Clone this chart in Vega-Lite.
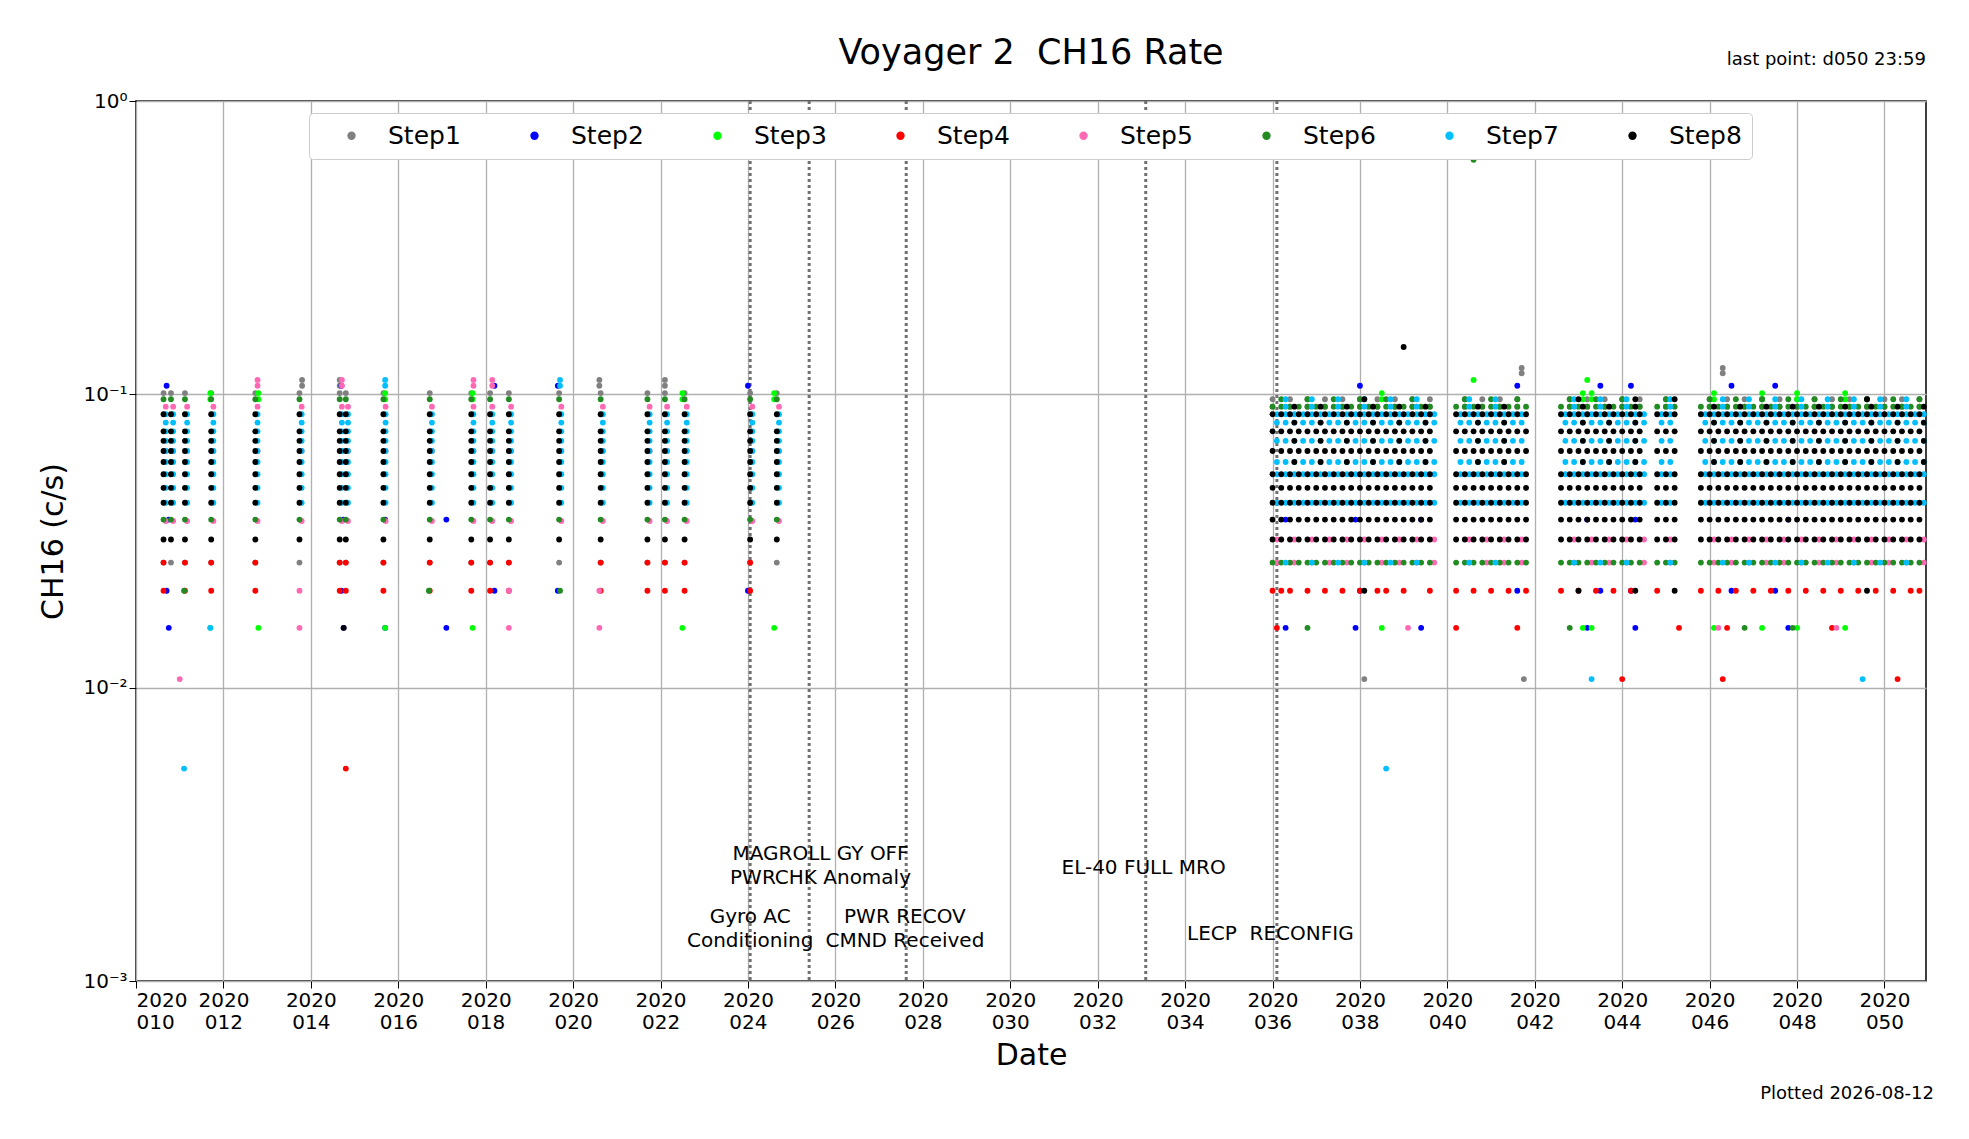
{
  "$schema": "https://vega.github.io/schema/vega-lite/v6.json",
  "autosize": "none",
  "width": 1790,
  "height": 880,
  "padding": {"left": 136, "top": 101, "right": 43, "bottom": 158},
  "title": {"text": "Voyager 2\u00a0\u00a0CH16 Rate", "fontSize": 35, "fontWeight": "normal", "font": "DejaVu Sans", "color": "black", "offset": -20},
  "config": {
    "font": "DejaVu Sans",
    "view": {"stroke": "black", "strokeWidth": 1.5},
    "axis": {"labelFontSize": 20, "titleFontSize": 30, "titleFontWeight": "normal", "labelColor": "black", "titleColor": "black", "domain": false, "tickColor": "black", "tickSize": 7, "gridColor": "#b0b0b0", "gridWidth": 1.3}
  },
  "datasets": {
    "pts": [
      {"s": "Step1", "d": [10.63,10.8,11.12,11.72,12.73,13.74,14.66,14.8,15.66,16.72,17.67,18.1,18.53,19.68,20.63,21.7,22.1,22.55,24.05,24.66], "v": [0.0267,0.101]},
      {"s": "Step1", "d": [36.0,36.4,36.8,37.2,37.6,38.0,38.4,38.8,39.2,39.6,40.4,40.8,41.2,41.6,42.8,43.2,43.6,44.0,44.4,45.0,46.0,46.4,46.8,47.2,47.6,48.0,48.4,48.8,49.2,49.6,50.0,50.4,50.8], "v": [0.0962,0.0908]},
      {"s": "Step1", "d": [38.1,41.75], "v": [0.0107]},
      {"s": "Step1", "d": [41.7,46.3], "v": [0.118,0.123]},
      {"s": "Step1", "d": [13.8,14.66,20.6,22.1], "v": [0.107,0.112]},
      {"s": "Step2", "d": [10.7,14.7,18.2,19.65,24.0,38.0,41.6,43.5,44.2,46.5,47.5], "v": [0.0214,0.107]},
      {"s": "Step2", "d": [10.75,14.75,15.7,17.1,36.3,37.9,39.4,43.2,44.3,47.8], "v": [0.016,0.0374]},
      {"s": "Step3", "d": [11.7,12.8,15.7,17.7,22.5,24.6,38.5,43.1,43.3,46.1,47.2,48.0,49.1], "v": [0.016,0.0962,0.101]},
      {"s": "Step3", "d": [40.6,43.2], "v": [0.112]},
      {"s": "Step4", "d": [10.63,11.12,11.72,12.73,14.66,14.8,15.66,16.72,17.67,18.1,18.53,20.63,21.7,22.1,22.55,24.05], "v": [0.0214,0.0267]},
      {"s": "Step4", "d": [36.0,36.2,36.4,36.8,37.2,37.6,38.0,38.4,38.6,39.0,39.6,40.2,40.6,41.0,41.4,41.8,42.6,43.0,43.4,43.8,44.2,44.8,45.8,46.2,46.6,47.0,47.4,47.8,48.2,48.6,49.0,49.4,49.8,50.2,50.6,50.8], "v": [0.0214]},
      {"s": "Step4", "d": [14.8], "v": [0.0053]},
      {"s": "Step4", "d": [36.1,40.2,41.6,45.3,46.4,48.8], "v": [0.016]},
      {"s": "Step4", "d": [44.0,46.3,50.3], "v": [0.0107]},
      {"s": "Step5", "d": [10.68,10.85,11.17,11.77,12.78,13.79,14.71,14.85,15.71,16.77,17.72,18.15,18.58,19.73,20.68,21.75,22.15,22.6,24.1,24.71], "v": [0.037,0.0641,0.0908]},
      {"s": "Step5", "d": [12.78,14.71,17.72,18.15], "v": [0.107,0.112]},
      {"s": "Step5", "d": [11.0], "v": [0.0107]},
      {"s": "Step5", "d": [13.74,18.53,20.6], "v": [0.016,0.0214]},
      {"s": "Step5", "d": [36.1,36.5,36.9,37.3,37.7,38.1,38.5,38.9,39.3,39.7,40.5,40.9,41.3,41.7,42.9,43.3,43.7,44.1,44.5,45.1,46.1,46.5,46.9,47.3,47.7,48.1,48.5,48.9,49.3,49.7,50.1,50.5,50.9], "v": [0.0267,0.032]},
      {"s": "Step5", "d": [39.1,46.2,48.9], "v": [0.016]},
      {"s": "Step6", "d": [10.63,10.8,11.12,11.72,12.73,13.74,14.66,14.8,15.66,16.72,17.67,18.1,18.53,19.68,20.63,21.7,22.1,22.55,24.05,24.66], "v": [0.0374,0.0962]},
      {"s": "Step6", "d": [11.1,16.7,19.7], "v": [0.0214]},
      {"s": "Step6", "d": [36.0,36.2,36.4,36.6,36.8,37.0,37.2,37.4,37.6,37.8,38.0,38.2,38.4,38.6,38.8,39.0,39.2,39.4,39.6,40.2,40.4,40.6,40.8,41.0,41.2,41.4,41.6,41.8,42.6,42.8,43.0,43.2,43.4,43.6,43.8,44.0,44.2,44.4,44.8,45.0,45.2,45.8,46.0,46.2,46.4,46.6,46.8,47.0,47.2,47.4,47.6,47.8,48.0,48.2,48.4,48.6,48.8,49.0,49.2,49.4,49.6,49.8,50.0,50.2,50.4,50.6,50.8], "v": [0.0267,0.0908]},
      {"s": "Step6", "d": [36.2,36.8,37.4,38.0,38.6,39.2,40.4,41.0,41.6,42.8,43.4,44.0,45.0,46.0,46.6,47.2,47.8,48.4,49.0,49.6,50.2,50.8], "v": [0.0962]},
      {"s": "Step6", "d": [36.8,42.8,46.8,47.9], "v": [0.016]},
      {"s": "Step6", "d": [40.6], "v": [0.63]},
      {"s": "Step7", "d": [10.68,10.85,11.17,11.77,12.78,13.79,14.71,14.85,15.71,16.77,17.72,18.15,18.58,19.73,20.68,21.75,22.15,22.6,24.1,24.71], "v": [0.0427,0.048,0.0534,0.0588,0.0641,0.0694,0.0748,0.0801,0.0855]},
      {"s": "Step7", "d": [11.1,38.6], "v": [0.0053]},
      {"s": "Step7", "d": [11.7], "v": [0.016]},
      {"s": "Step7", "d": [15.7,19.7], "v": [0.112,0.107]},
      {"s": "Step7", "d": [36.1,36.3,36.5,36.7,36.9,37.1,37.3,37.5,37.7,37.9,38.1,38.3,38.5,38.7,38.9,39.1,39.3,39.5,39.7,40.3,40.5,40.7,40.9,41.1,41.3,41.5,41.7,42.7,42.9,43.1,43.3,43.5,43.7,43.9,44.1,44.3,44.5,44.9,45.1,45.9,46.1,46.3,46.5,46.7,46.9,47.1,47.3,47.5,47.7,47.9,48.1,48.3,48.5,48.7,48.9,49.1,49.3,49.5,49.7,49.9,50.1,50.3,50.5,50.7,50.9], "v": [0.0427,0.0534,0.0588,0.0694,0.0801,0.0855]},
      {"s": "Step7", "d": [36.3,36.9,37.5,38.1,38.7,39.3,40.5,41.1,42.9,43.5,44.1,45.1,46.3,46.9,47.5,48.1,48.7,49.3,49.9,50.5], "v": [0.0908,0.0962,0.0267]},
      {"s": "Step7", "d": [43.3,49.5], "v": [0.0107]},
      {"s": "Step7", "d": [40.6], "v": [0.7]},
      {"s": "Step8", "d": [10.63,10.8,11.12,11.72,12.73,13.74,14.66,14.8,15.66,16.72,17.67,18.1,18.53,19.68,20.63,21.7,22.1,22.55,24.05,24.66], "v": [0.032,0.0427,0.048,0.0534,0.0588,0.0641,0.0694,0.0748,0.0855]},
      {"s": "Step8", "d": [14.75], "v": [0.016]},
      {"s": "Step8", "d": [36.0,36.2,36.4,36.6,36.8,37.0,37.2,37.4,37.6,37.8,38.0,38.2,38.4,38.6,38.8,39.0,39.2,39.4,39.6,40.2,40.4,40.6,40.8,41.0,41.2,41.4,41.6,41.8,42.6,42.8,43.0,43.2,43.4,43.6,43.8,44.0,44.2,44.4,44.8,45.0,45.2,45.8,46.0,46.2,46.4,46.6,46.8,47.0,47.2,47.4,47.6,47.8,48.0,48.2,48.4,48.6,48.8,49.0,49.2,49.4,49.6,49.8,50.0,50.2,50.4,50.6,50.8], "v": [0.032,0.0374,0.0427,0.048,0.0534,0.0641,0.0748,0.0855]},
      {"s": "Step8", "d": [36.5,37.1,37.7,38.3,38.9,39.5,40.7,41.3,43.1,43.7,44.3,46.1,46.7,47.3,47.9,48.5,49.1,49.7,50.3,50.9], "v": [0.0588,0.0694,0.0801,0.0908]},
      {"s": "Step8", "d": [39.0], "v": [0.145]},
      {"s": "Step8", "d": [38.1,43.0,44.3,45.2,49.6], "v": [0.0214,0.0962]}
    ],
    "events": [{"d": 24.05}, {"d": 25.4}, {"d": 27.62}, {"d": 33.1}, {"d": 36.1}],
    "notes": [
      {"d": 25.66, "y": 0.0027, "t": ["MAGROLL GY OFF", "PWRCHK Anomaly"]},
      {"d": 24.05, "y": 0.00165, "t": ["Gyro AC", "Conditioning"]},
      {"d": 27.59, "y": 0.00165, "t": ["PWR RECOV", "CMND Received"]},
      {"d": 33.05, "y": 0.00242, "t": ["EL-40 FULL MRO"]},
      {"d": 35.95, "y": 0.00145, "t": ["LECP\u00a0\u00a0RECONFIG"]}
    ]
  },
  "layer": [
    {
      "data": {"name": "events"},
      "mark": {"type": "rule", "color": "#707070", "strokeWidth": 3, "strokeDash": [3, 3]},
      "encoding": {"x": {"field": "d", "type": "quantitative"}}
    },
    {
      "data": {"name": "pts"},
      "transform": [{"flatten": ["d"]}, {"flatten": ["v"]}],
      "mark": {"type": "circle", "size": 34, "opacity": 1},
      "encoding": {
        "x": {"field": "d", "type": "quantitative", "title": "Date",
          "scale": {"domain": [10, 50.95], "nice": false, "zero": false},
          "axis": {"values": [10,12,14,16,18,20,22,24,26,28,30,32,34,36,38,40,42,44,46,48,50], "labelExpr": "['2020', format(datum.value, '03d')]", "titlePadding": 8}},
        "y": {"field": "v", "type": "quantitative", "title": "CH16 (c/s)",
          "scale": {"type": "log", "domain": [0.001, 1], "nice": false},
          "axis": {"values": [0.001, 0.01, 0.1, 1], "labelExpr": "datum.value == 1 ? '10⁰' : datum.value == 0.1 ? '10⁻¹' : datum.value == 0.01 ? '10⁻²' : '10⁻³'", "titlePadding": 14}},
        "color": {"field": "s", "type": "nominal", "title": null,
          "scale": {"domain": ["Step1","Step2","Step3","Step4","Step5","Step6","Step7","Step8"], "range": ["#808080","#0000ff","#00ff00","#ff0000","#ff69b4","#228b22","#00bfff","#000000"]},
          "legend": {"orient": "none", "legendX": 173, "legendY": 12, "direction": "horizontal", "columns": 8, "columnPadding": 41, "labelFontSize": 25, "labelOffset": 24, "symbolSize": 70, "symbolType": "circle", "labelColor": "black", "strokeColor": "#cccccc", "fillColor": "white", "padding": 10, "cornerRadius": 4, "symbolOffset": 20}}
      }
    },
    {
      "data": {"name": "notes"},
      "mark": {"type": "text", "fontSize": 20, "align": "center", "baseline": "middle", "lineHeight": 24, "color": "black"},
      "encoding": {
        "x": {"field": "d", "type": "quantitative"},
        "y": {"field": "y", "type": "quantitative"},
        "text": {"field": "t"}
      }
    },
    {
      "data": {"values": [{"d": 50.95, "y": 1, "t": "last point: d050 23:59"}]},
      "mark": {"type": "text", "fontSize": 18, "align": "right", "baseline": "bottom", "dy": -32, "color": "black"},
      "encoding": {"x": {"field": "d", "type": "quantitative"}, "y": {"field": "y", "type": "quantitative"}, "text": {"field": "t"}}
    },
    {
      "data": {"values": [{"d": 50.95, "y": 0.001, "t": "Plotted 2026-08-12"}]},
      "mark": {"type": "text", "fontSize": 18, "align": "right", "baseline": "bottom", "dy": 122, "dx": 8, "color": "black"},
      "encoding": {"x": {"field": "d", "type": "quantitative"}, "y": {"field": "y", "type": "quantitative"}, "text": {"field": "t"}}
    }
  ]
}
